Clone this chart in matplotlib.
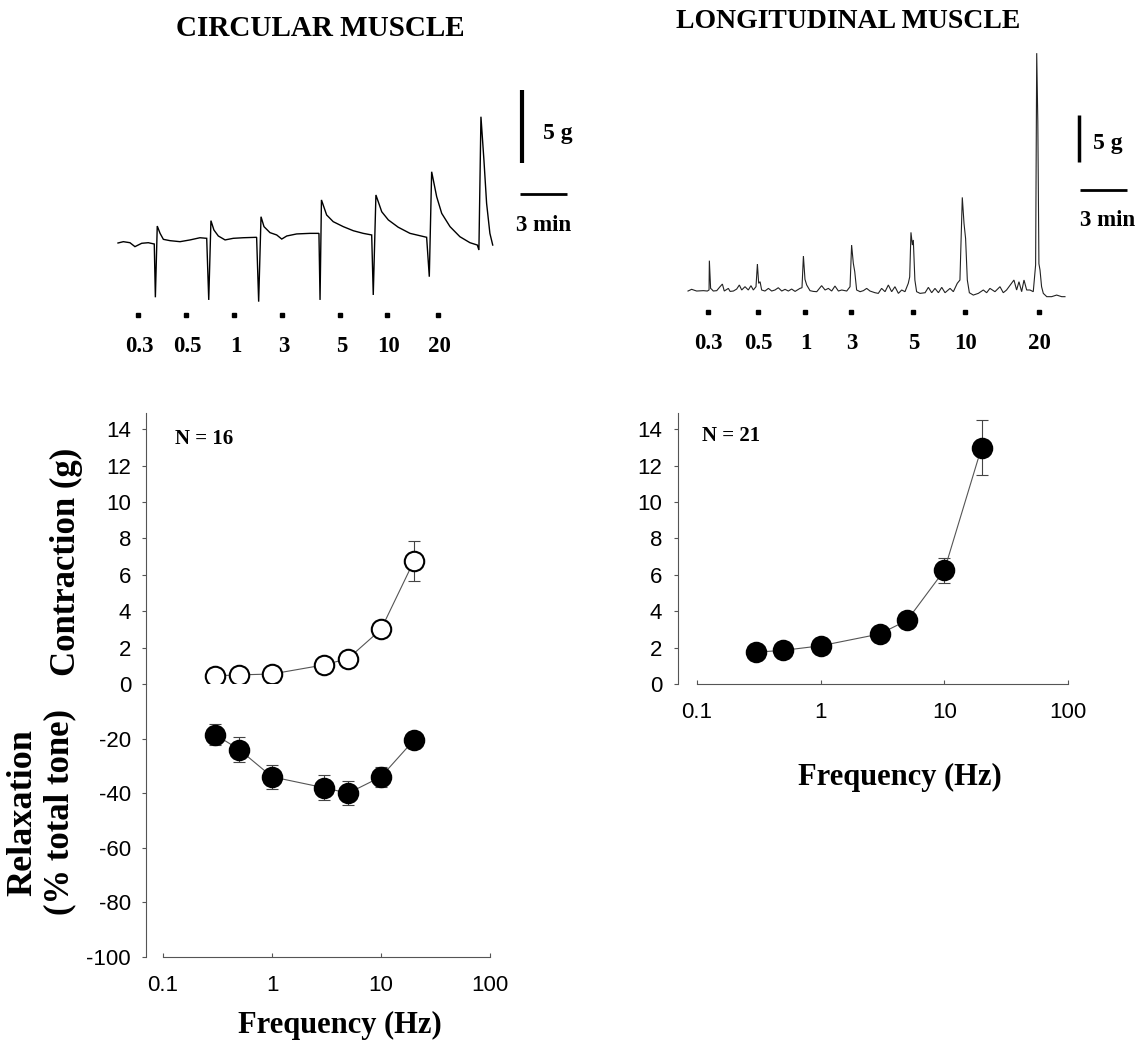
import matplotlib
matplotlib.use('Agg')
import matplotlib.pyplot as plt

plt.rcParams['font.family'] = ['Liberation Sans', 'DejaVu Sans']
plt.rcParams['axes.unicode_minus'] = False

# Estimulação por frequência (Hz), média +/- EPM
freq_hz = [0.3, 0.5, 1, 3, 5, 10, 20]
freq_labels = ['0.3', '0.5', '1', '3', '5', '10', '20']

circ_contraction_g = [0.45, 0.5, 0.55, 1.05, 1.4, 3.0, 6.75]
circ_contraction_err = [0.1, 0.1, 0.1, 0.2, 0.3, 0.4, 1.1]
circ_relaxation_pct = [-18.5, -24.0, -34.0, -38.0, -40.0, -34.0, -20.6]
circ_relaxation_err = [4.0, 4.5, 4.5, 4.5, 4.5, 3.6, 3.0]

long_contraction_g = [1.75, 1.85, 2.1, 2.75, 3.5, 6.25, 13.0]
long_contraction_err = [0.2, 0.2, 0.3, 0.3, 0.4, 0.7, 1.5]

# Registro do músculo circular (tempo em min, tensão em g)
circ_trace_min = [0.0, 0.34, 0.76, 1.08, 1.51, 1.93, 2.31, 2.38, 2.50, 2.68, 2.89, 3.31, 3.95,
                  4.59, 5.22, 5.65, 5.78, 5.92, 6.11, 6.39, 6.82, 7.34, 7.98, 8.83, 8.96, 9.11,
                  9.30, 9.68, 10.11, 10.43, 10.75, 11.38, 12.23, 12.80, 12.87, 12.96, 13.29,
                  13.71, 14.35, 14.99, 15.62, 16.16, 16.26, 16.43, 16.80, 17.22, 17.85, 18.60,
                  19.66, 19.83, 19.98, 20.30, 20.62, 21.15, 21.78, 22.42, 22.89, 22.99, 23.12,
                  23.31, 23.48, 23.69, 23.87]
circ_trace_g = [0.0, 0.09, 0.02, -0.25, -0.02, 0.02, -0.07, -3.72, 1.16, 0.66, 0.25, 0.16, 0.09,
                0.21, 0.36, 0.32, -3.90, 1.53, 0.89, 0.48, 0.21, 0.32, 0.36, 0.39, -4.02, 1.80,
                1.12, 0.71, 0.55, 0.27, 0.48, 0.62, 0.66, 0.66, -3.90, 2.95, 1.92, 1.46, 1.12,
                0.84, 0.66, 0.55, -3.56, 3.29, 2.14, 1.58, 1.08, 0.66, 0.39, -2.31, 4.88, 3.17,
                2.03, 1.12, 0.43, 0.02, -0.14, -0.48, 8.65, 5.68, 2.72, 0.66, -0.14]
circ_marks_min = [1.27, 4.33, 7.39, 10.45, 14.14, 17.13, 20.38]

# Registro do músculo longitudinal (tempo em min, tensão em g)
long_trace_min = [0.0, 0.23, 0.55, 0.98, 1.23, 1.34, 1.36, 1.44, 1.51, 1.61, 1.83, 2.04, 2.19,
                  2.31, 2.57, 2.68, 2.89, 3.10, 3.27, 3.42, 3.63, 3.84, 4.01, 4.16, 4.33, 4.42,
                  4.50, 4.59, 4.69, 4.90, 5.12, 5.33, 5.54, 5.75, 5.97, 6.18, 6.39, 6.60, 6.82,
                  7.13, 7.26, 7.35, 7.45, 7.56, 7.77, 7.98, 8.20, 8.51, 8.73, 8.94, 9.15, 9.36,
                  9.58, 9.79, 10.11, 10.32, 10.42, 10.53, 10.62, 10.74, 10.96, 11.17, 11.38,
                  11.59, 11.91, 12.12, 12.33, 12.55, 12.76, 12.97, 13.18, 13.40, 13.61, 13.82,
                  14.03, 14.12, 14.20, 14.29, 14.35, 14.45, 14.56, 14.78, 15.10, 15.31, 15.52,
                  15.73, 15.95, 16.16, 16.37, 16.69, 16.90, 17.15, 17.32, 17.47, 17.58, 17.68,
                  17.79, 17.92, 18.17, 18.49, 18.81, 19.02, 19.23, 19.55, 19.87, 20.08, 20.29,
                  20.61, 20.76, 20.93, 21.08, 21.25, 21.40, 21.57, 21.78, 21.99, 22.14, 22.21,
                  22.28, 22.35, 22.42, 22.52, 22.63, 22.85, 23.16, 23.48, 23.80, 24.01]
long_trace_g = [0.0, 0.18, 0.0, 0.04, 0.0, 0.11, 3.23, 0.28, 0.18, 0.0, 0.04, 0.46, 0.74,
                0.0, 0.28, -0.04, 0.0, 0.21, 0.64, 0.11, 0.46, 0.11, 0.57, 0.11, 0.46, 2.87,
                0.82, 0.99, 0.11, 0.0, 0.28, 0.0, 0.11, 0.35, 0.0, 0.18, 0.0, 0.21, -0.04,
                0.28, 0.35, 3.72, 1.24, 0.64, 0.04, -0.04, -0.07, 0.57, 0.11, 0.28, 0.0, 0.53,
                0.0, 0.11, 0.0, 0.46, 4.89, 2.94, 2.06, 0.11, -0.07, 0.04, 0.28,
                0.0, -0.18, -0.25, 0.28, -0.07, 0.64, -0.07, 0.46, -0.25, 0.11, -0.07,
                0.82, 1.5, 6.24, 4.89, 5.43, 1.17, -0.07, -0.25, -0.18, 0.39, -0.18,
                0.28, -0.18, 0.39, -0.18, 0.28, -0.07, 0.82, 1.17, 9.96, 7.18, 5.59,
                1.17, -0.18, -0.43, -0.25, 0.11, -0.18, 0.28, -0.07, 0.46, -0.18, 0.11,
                0.82, 1.17, 0.11, 0.99, -0.07, 1.17, 0.11, 0.11, -0.07, 2.77, 25.3,
                18.0, 2.9, 2.23, 0.46, -0.25, -0.60, -0.60, -0.43, -0.60, -0.60]
long_marks_min = [1.27, 4.46, 7.45, 10.38, 14.33, 17.64, 22.36]

W, H = 1135, 1050
SERIF = 'Liberation Serif'
AXCOL = '#555555'


def px_rect(x0, y0, x1, y1):
    return [x0 / W, 1 - y1 / H, (x1 - x0) / W, (y1 - y0) / H]


def style_axis(ax, outward):
    for s in ['top', 'right']:
        ax.spines[s].set_visible(False)
    ax.spines['left'].set_position(('outward', outward))
    for s in ['left', 'bottom']:
        ax.spines[s].set_color(AXCOL)
        ax.spines[s].set_linewidth(0.8)
    ax.tick_params(axis='y', direction='out', length=3, width=0.8, color=AXCOL,
                   labelsize=16, pad=8)
    ax.set_xscale('log')
    ax.set_xlim(0.1, 100)
    ax.minorticks_off()


def set_freq_axis(ax):
    ax.set_xticks([0.1, 1, 10, 100])
    ax.set_xticklabels(['0.1', '1', '10', '100'])
    ax.tick_params(axis='x', which='both', direction='in', length=3, width=0.8,
                   color=AXCOL, labelsize=16, pad=13)
    ax.minorticks_off()


def draw_series(ax, y, err, face):
    ax.errorbar(freq_hz, y, yerr=err, fmt='none', ecolor='#444444', elinewidth=0.8,
                capsize=4, capthick=0.8, zorder=2, clip_on=False)
    ax.plot(freq_hz, y, '-', color='#555555', lw=0.8, zorder=3, clip_on=False)
    ax.plot(freq_hz, y, 'o', ms=14, mfc=face, mec='black', mew=1.5, zorder=4,
            clip_on=False)


def draw_trace(ax, t, g, lw, color):
    ax.plot(t, g, color=color, lw=lw, solid_joinstyle='miter')
    ax.axis('off')


fig = plt.figure(figsize=(W / 100, H / 100), dpi=100)

# ---- circular: contração (acima) e relaxamento (abaixo) ----
ax_up = fig.add_axes(px_rect(163, 413, 490, 684))
style_axis(ax_up, 12)
ax_up.spines['bottom'].set_visible(False)
ax_up.set_ylim(0, 14.9)
ax_up.set_yticks(range(0, 15, 2))
ax_up.tick_params(axis='x', bottom=False, labelbottom=False)
draw_series(ax_up, circ_contraction_g, circ_contraction_err, 'white')
ax_up.text(0.037, 0.905, 'N = 16', transform=ax_up.transAxes, fontfamily=SERIF,
           fontweight='bold', fontsize=15, va='center')

ax_lo = fig.add_axes(px_rect(163, 684, 490, 957))
style_axis(ax_lo, 12)
ax_lo.set_ylim(-100, 0)
ax_lo.set_yticks(range(-100, 0, 20))
set_freq_axis(ax_lo)
draw_series(ax_lo, circ_relaxation_pct, circ_relaxation_err, 'black')

# ---- longitudinal ----
ax_r = fig.add_axes(px_rect(697, 413, 1068, 684))
style_axis(ax_r, 14)
ax_r.set_ylim(0, 14.9)
ax_r.set_yticks(range(0, 15, 2))
set_freq_axis(ax_r)
draw_series(ax_r, long_contraction_g, long_contraction_err, 'black')
ax_r.text(0.013, 0.915, 'N = 21', transform=ax_r.transAxes, fontfamily=SERIF,
          fontweight='bold', fontsize=15, va='center')

# rótulos dos eixos
lab = dict(fontfamily=SERIF, fontweight='bold')
fig.text(66 / W, 1 - 562 / H, 'Contraction (g)', rotation=90, ha='center', va='center',
         fontsize=25, **lab)
fig.text(23 / W, 1 - 813 / H, 'Relaxation', rotation=90, ha='center', va='center',
         fontsize=26, **lab)
fig.text(60 / W, 1 - 812 / H, '(% total tone)', rotation=90, ha='center', va='center',
         fontsize=25, **lab)
fig.text(340 / W, 1 - 1025 / H, 'Frequency (Hz)', ha='center', va='center', fontsize=22, **lab)
fig.text(900 / W, 1 - 777 / H, 'Frequency (Hz)', ha='center', va='center', fontsize=22, **lab)

# títulos
fig.text(320 / W, 1 - 28 / H, 'CIRCULAR MUSCLE', ha='center', va='center', fontsize=21, **lab)
fig.text(848 / W, 1 - 22 / H, 'LONGITUDINAL MUSCLE', ha='center', va='center', fontsize=20,
         **lab)

# ---- registros ----
ax_tc = fig.add_axes(px_rect(110, 70, 580, 370))
ax_tc.set_xlim(-0.51, 29.43)
ax_tc.set_ylim(-8.70, 11.85)
draw_trace(ax_tc, circ_trace_min, circ_trace_g, 1.0, 'black')
ax_tc.plot(circ_marks_min, [-4.93] * len(circ_marks_min), 's', ms=3, color='black')
for t, s in zip(circ_marks_min, freq_labels):
    ax_tc.text(t + 0.1, -7.12, s, ha='center', va='center', fontsize=16.5, **lab)
ax_tc.plot([25.73, 25.73], [5.48, 10.48], color='black', lw=3, solid_capstyle='butt')
ax_tc.plot([25.6, 28.6], [3.36, 3.36], color='black', lw=2, solid_capstyle='butt')
ax_tc.text(28.0, 7.5, '5 g', ha='center', va='center', fontsize=17, **lab)
ax_tc.text(27.1, 1.23, '3 min', ha='center', va='center', fontsize=16.5, **lab)

ax_tl = fig.add_axes(px_rect(680, 40, 1135, 370))
ax_tl.set_xlim(-0.51, 28.47)
ax_tl.set_ylim(-8.40, 26.70)
draw_trace(ax_tl, long_trace_min, long_trace_g, 0.8, '#222222')
ax_tl.plot(long_marks_min, [-2.23] * len(long_marks_min), 's', ms=3, color='black')
for t, s in zip(long_marks_min, freq_labels):
    ax_tl.text(t + 0.05, -5.53, s, ha='center', va='center', fontsize=16.5, **lab)
ax_tl.plot([24.90, 24.90], [13.72, 18.72], color='black', lw=2.5, solid_capstyle='butt')
ax_tl.plot([24.97, 27.96], [10.74, 10.74], color='black', lw=2, solid_capstyle='butt')
ax_tl.text(26.75, 15.74, '5 g', ha='center', va='center', fontsize=17, **lab)
ax_tl.text(26.75, 7.55, '3 min', ha='center', va='center', fontsize=16.5, **lab)

fig.savefig('out.png', dpi=100)
